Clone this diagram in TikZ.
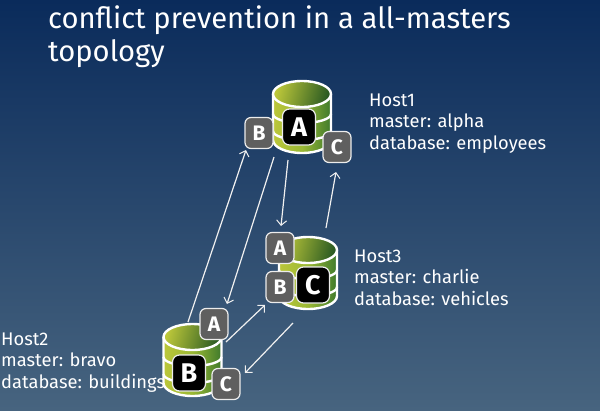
\documentclass[tikz,border=0pt]{standalone}
\usepackage{fontspec}
\setmainfont{Fira Sans}
\usetikzlibrary{arrows.meta}
\definecolor{bgtop}{HTML}{0A2B5B}
\definecolor{bgbot}{HTML}{47647F}
\definecolor{cyllight}{HTML}{BCC73A}
\definecolor{cylmid}{HTML}{9AB834}
\definecolor{cyldark}{HTML}{3F7A2C}
\definecolor{capdark}{HTML}{2A5A22}
\definecolor{badgegray}{HTML}{5F5F5F}
\tikzset{
  badge/.style={draw=white!85!gray,line width=1.2pt,fill=badgegray,rounded corners=6pt,minimum width=28pt,minimum height=31pt,inner sep=0pt,text=white,font=\fontsize{21}{21}\selectfont\bfseries},
  mainbadge/.style={draw=white!85!gray,line width=1.2pt,fill=black,rounded corners=7pt,minimum width=33pt,minimum height=36pt,inner sep=0pt,text=white,font=\fontsize{27}{27}\selectfont\bfseries},
  hostlabel/.style={anchor=west,align=left,text=white,inner sep=0pt,font=\fontsize{18.3}{21.5}\selectfont},
  titletext/.style={anchor=north west,align=left,text=white,inner sep=0pt,font=\fontsize{29.2}{33.5}\selectfont},
  link/.style={draw=white!88!gray,line width=1.2pt,-{Straight Barb[length=5pt,width=10pt,line width=1pt]}},
  cylline/.style={draw=white,line width=2.4pt},
}
\newcommand{\dbcyl}[2]{%
  \begin{scope}[shift={(#1,#2)}]
    \path[left color=cyllight,right color=cyldark,middle color=cylmid]
      (-29,13) -- (-29,59) arc[start angle=180,end angle=360,x radius=29,y radius=-13] -- (29,13) -- cycle;
    \draw[cylline] (-29,33) arc[start angle=180,end angle=360,x radius=29,y radius=-9];
    \draw[cylline] (-29,50) arc[start angle=180,end angle=360,x radius=29,y radius=-9];
    \draw[cylline] (-29,13) -- (-29,59) arc[start angle=180,end angle=360,x radius=29,y radius=-13] -- (29,13);
    \shade[left color=cyllight,right color=capdark,shading angle=75] (0,13) ellipse[x radius=29,y radius=13];
    \draw[cylline] (0,13) ellipse[x radius=29,y radius=13];
  \end{scope}}
\begin{document}
\begin{tikzpicture}[x=1pt,y=-1pt]
\useasboundingbox (0,0) rectangle (600,410);
\shade[top color=bgtop,bottom color=bgbot] (0,0) rectangle (600,410);
\node[titletext] (title) at (48,5.5) {conflict prevention in a all-masters\\topology};
\dbcyl{302}{81}
\dbcyl{308}{237}
\dbcyl{192.5}{324}
\node[mainbadge] (mainA) at (299,127) {A};
\node[badge] (h1b) at (259,133) {B};
\node[badge] (h1c) at (337,147) {C};
\node[mainbadge] (mainC) at (313,285) {C};
\node[badge] (h3a) at (280,248) {A};
\node[badge] (h3b) at (280,287) {B};
\node[mainbadge] (mainB) at (189,373) {B};
\node[badge] (h2a) at (214,324) {A};
\node[badge] (h2c) at (226,384) {C};
\node[hostlabel] (host1) at (369,123.5) {Host1\\master: alpha\\database: employees};
\node[hostlabel] (host3) at (354,277.5) {Host3\\master: charlie\\database: vehicles};
\node[hostlabel] (host2) at (1,362.5) {Host2\\master: bravo\\database: buildings};
\coordinate (s1) at (188,322); \coordinate (e1) at (246,150);
\coordinate (s2) at (274,157); \coordinate (e2) at (227,304);
\coordinate (s3) at (288,160); \coordinate (e3) at (281,226);
\coordinate (s4) at (326,228); \coordinate (e4) at (336,172);
\coordinate (s5) at (226,342); \coordinate (e5) at (265,305);
\coordinate (s6) at (293,323); \coordinate (e6) at (245,373);
\draw[link] (s1) -- (e1);
\draw[link] (s2) -- (e2);
\draw[link] (s3) -- (e3);
\draw[link] (s4) -- (e4);
\draw[link] (s5) -- (e5);
\draw[link] (s6) -- (e6);
\end{tikzpicture}
\end{document}
